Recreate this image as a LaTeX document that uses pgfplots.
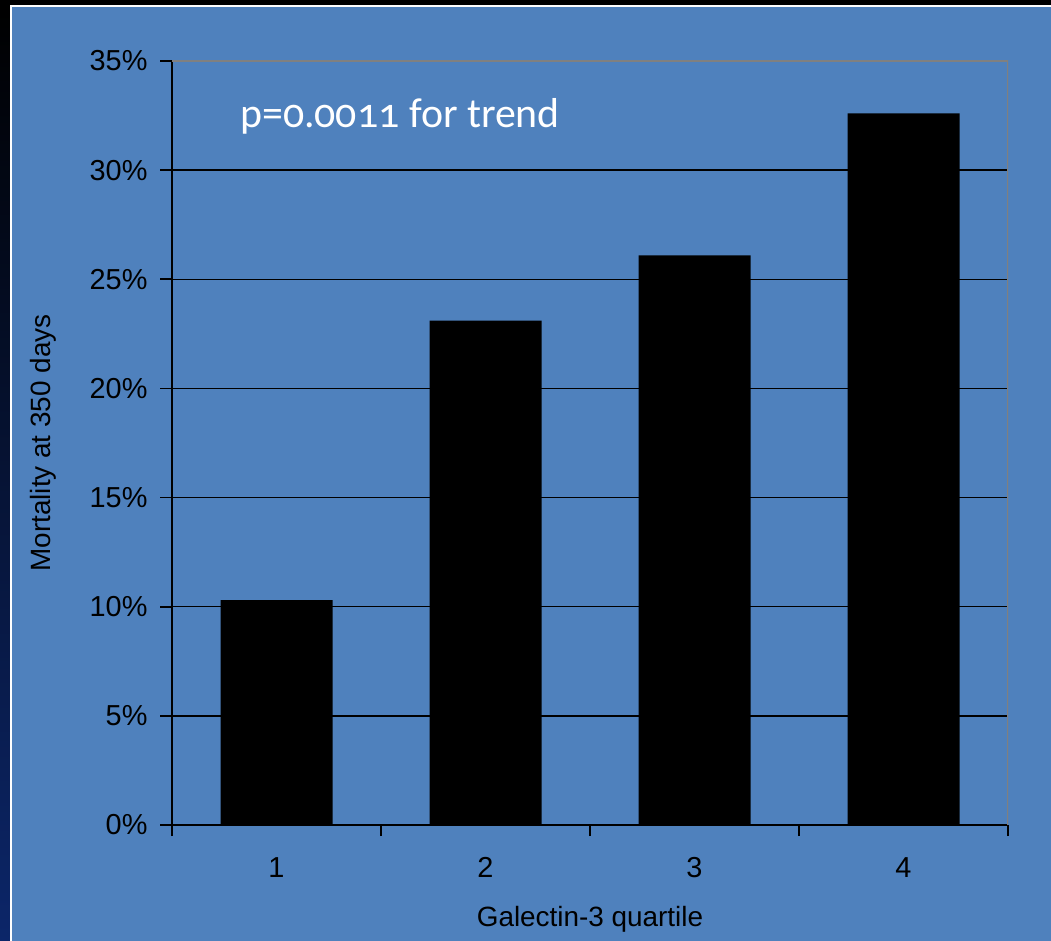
\documentclass[border=0pt]{standalone}
\usepackage{pgfplots}
\pgfplotsset{compat=1.18}
\usepackage{fontspec}
\setmainfont{Liberation Sans}
\newfontfamily\notefont[Numbers=OldStyle]{Carlito}
\definecolor{panelblue}{RGB}{79,129,189}
\definecolor{framegray}{RGB}{128,128,128}
\definecolor{slidenavy}{RGB}{12,38,105}
\begin{document}
\begin{tikzpicture}[x=1bp,y=1bp]
% slide background
\fill[black] (0,0) rectangle (1051,941);
\shade[top color=black, bottom color=slidenavy] (0,0) rectangle (10,936);
\fill[white] (10,0) rectangle (1051,936);
\fill[panelblue] (12,0) rectangle (1051,934);
\useasboundingbox (0,0) rectangle (1051,941);
\begin{axis}[
  scale only axis, width=836bp, height=764bp,
  at={(172bp,116bp)}, anchor=south west,
  xmin=-0.5, xmax=3.5, ymin=0, ymax=35,
  axis x line*=bottom, axis y line*=left,
  axis line style={black, line width=1.6bp},
  xtick={0,1,2,3}, xticklabels={1,2,3,4},
  minor xtick={-0.5,0.5,1.5,2.5,3.5},
  ytick={0,5,...,35},
  yticklabel={\pgfmathprintnumber{\tick}\%},
  tick align=outside,
  major tick length=12bp, minor tick length=11bp,
  major x tick style={draw=none},
  minor x tick style={black, line width=1.6bp},
  major y tick style={black, line width=1.6bp},
  ymajorgrids,
  major grid style={black, line width=1.5bp},
  tick label style={font=\fontsize{29}{33}\selectfont, text=black},
  /pgf/number format/assume math mode=true,
  yticklabel style={xshift=-9bp},
  xticklabel style={anchor=base, yshift=-40bp},
  xlabel={Galectin-3 quartile},
  ylabel={Mortality at 350 days},
  every axis x label/.style={at={(rel axis cs:0.5,0)}, anchor=base, yshift=-102bp,
    font=\fontsize{28}{32}\selectfont},
  every axis y label/.style={at={(rel axis cs:0,0.5)}, xshift=-129bp, anchor=center, rotate=90,
    font=\fontsize{28}{32}\selectfont},
]
\addplot[ybar, bar width=112bp, fill=black, draw=none]
  coordinates {(0,10.3) (1,23.1) (2,26.1) (3,32.6)};
\draw[framegray, line width=1.6bp] (rel axis cs:0,1) -- (rel axis cs:1,1) -- (rel axis cs:1,0);
\end{axis}
\node[anchor=base west, text=white, font=\notefont\fontsize{42}{46}\selectfont, inner sep=0pt]
  at (240,813) {p=0.0011 for trend};
\end{tikzpicture}
\end{document}
